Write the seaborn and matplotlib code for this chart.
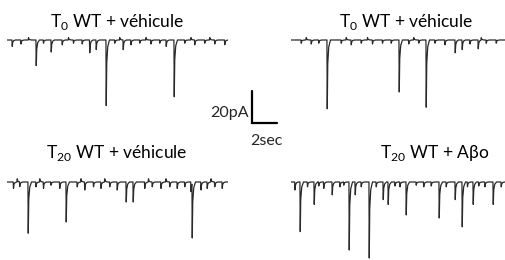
import numpy as np
import pandas as pd
import seaborn as sns
import matplotlib
matplotlib.use("Agg")
import matplotlib.pyplot as plt

sns.set_theme(style="white")
plt.rcParams['font.family'] = ['Lato', 'DejaVu Sans']
plt.rcParams['mathtext.fontset'] = 'custom'
plt.rcParams['mathtext.rm'] = 'Lato'

# ---------------- data (time in s, amplitude in pA) ----------------
titles = ["T$_0$ WT + véhicule", "T$_0$ WT + véhicule",
          "T$_{20}$ WT + véhicule", "T$_{20}$ WT + Aβo"]
durations = [17.7, 17.2, 17.7, 17.1]

# large events
p1_times = [2.32, 3.52, 6.6, 7.12, 7.92, 9.28, 12.72, 13.36, 0.4]
p1_amps = [-16, -7.5, -8, -6, -41, -6, -4, -35.5, -4]
p2_times = [2.88, 8.64, 10.8, 13.12, 13.68, 14.96]
p2_amps = [-43, -32.5, -42, -8, -6, -5.5]
p3_times = [1.68, 4.72, 9.52, 10.08, 14.7, 14.8, 15.5]
p3_amps = [-32, -25, -12.5, -12.5, -6, -34, -5]
p4_times = [0.72, 1.84, 3.28, 4.64, 5.12, 6.24, 7.36, 7.76, 9.2,
            11.84, 13.12, 13.68, 14.56, 16.16, 0.3, 2.6]
p4_amps = [-31, -14, -8, -42.5, -8, -47.5, -11, -14, -20.6,
           -22.5, -11, -28, -14, -14, -5, -4]

# small baseline deflections (noise), negative dips and positive blips
n1_times = [1.1, 1.7, 2.9, 4.4, 4.9, 5.3, 6.0, 8.6, 9.0, 9.9, 10.6, 11.1, 11.5, 12.2, 14.2, 14.7,
            15.0, 15.8, 16.2, 16.6, 17.4]
n1_amps = [-2.5, 1.5, -2, -3, 1.5, -2, -2.5, -2, 1.5, -3, -2, 1.5, -2.5, -2, -2, 1.5,
           -3, -2, 1.5, -2.5, -3]
n2_times = [0.8, 1.2, 1.6, 2.2, 4.0, 4.4, 4.8, 5.6, 6.1, 6.5, 7.3, 8.0, 9.4, 9.8, 10.2, 11.5,
            12.3, 14.3, 15.2, 15.6, 16.4]
n2_amps = [-2, 1.5, -2.5, -2, -2, 1.5, -3, -2, 1.5, -2.5, -2, -2, -2.5, 1.5, -2, -2,
           -3, -2.5, 1.5, -2, -2]
n3_times = [0.5, 0.8, 1.0, 2.3, 2.6, 2.9, 3.5, 4.2, 5.6, 5.9, 6.2, 6.9, 7.5, 7.8, 8.2, 8.8,
            11.0, 11.3, 11.6, 12.3, 12.7, 13.0, 13.6, 14.2, 16.0, 16.3, 16.6, 17.2]
n3_amps = [-4, 2, -3, -3, 2, -4, -2, -4, -3, 2, -5, -3, -4, 2, -3, -5,
           -4, 2, -3, -4, 2, -3, -4, -3, -4, 2, -3, -4]
n4_times = [1.3, 2.2, 3.9, 4.2, 5.6, 6.8, 8.3, 8.7, 10.0, 10.6, 11.2, 12.4, 14.1, 15.0, 15.5, 16.8]
n4_amps = [-3, -2.5, -3, -2, -3, -3, -2.5, -3, -2, -3, -2.5, -3, -3, -2.5, -3, -3]

all_times = [p1_times + n1_times, p2_times + n2_times, p3_times + n3_times, p4_times + n4_times]
all_amps = [p1_amps + n1_amps, p2_amps + n2_amps, p3_amps + n3_amps, p4_amps + n4_amps]

# scale bar
scale_pa = 20
scale_s = 2

# ---------------- layout (pixels of a 506x260 image) ----------------
W, H = 506, 260
px_s, px_pa = 12.5, 1.6
ylo, yhi = -60, 10
panel_x0 = [7, 291, 7, 291]
panel_base = [40, 40, 182, 182]
title_x = [117, 406, 117, 435]
title_y = [27, 27, 158, 158]

# event shape (relative time, fraction of peak)
shape_t = [-0.005, 0.02, 0.06, 0.14, 0.28]
shape_f = [0, 1, 0.35, 0.1, 0]


def build_trace(times, amps, dur):
    grid = [0.0, dur]
    for t in times:
        grid += [t + s for s in shape_t]
    grid = np.unique(np.clip(grid, 0, dur))
    y = np.zeros_like(grid)
    for t, a in zip(times, amps):
        y += a * np.interp(grid, [t + s for s in shape_t], shape_f, left=0, right=0)
    return pd.DataFrame({"t": grid, "i": y})


fig = plt.figure(figsize=(W / 100, H / 100), dpi=100)

axes = []
for k in range(4):
    dur = durations[k]
    top_px = panel_base[k] - yhi * px_pa
    h_px = (yhi - ylo) * px_pa
    ax = fig.add_axes([panel_x0[k] / W, 1 - (top_px + h_px) / H, dur * px_s / W, h_px / H])
    df = build_trace(all_times[k], all_amps[k], dur)
    sns.lineplot(data=df, x="t", y="i", ax=ax, color="#2a2a2a", linewidth=0.9,
                 estimator=None, sort=True)
    ax.set_xlim(0, dur)
    ax.set_ylim(ylo, yhi)
    ax.axis("off")
    fig.text(title_x[k] / W, 1 - title_y[k] / H, titles[k], ha="center", va="baseline",
             fontsize=12.5, color="black")
    axes.append(ax)

# scale bar drawn in data units of panel 1
ax = axes[0]
sx = (252 - panel_x0[0]) / px_s
sy = (panel_base[0] - 123) / px_pa
ax.plot([sx, sx, sx + scale_s], [sy + scale_pa, sy, sy], color="black", linewidth=1.6,
        clip_on=False, solid_joinstyle="miter")
fig.text(249 / W, 1 - 117 / H, f"{scale_pa}pA", ha="right", va="baseline", fontsize=11.5)
fig.text(250 / W, 1 - 145 / H, f"{scale_s}sec", ha="left", va="baseline", fontsize=11.5)

fig.savefig("out.png", dpi=100, facecolor="white")
